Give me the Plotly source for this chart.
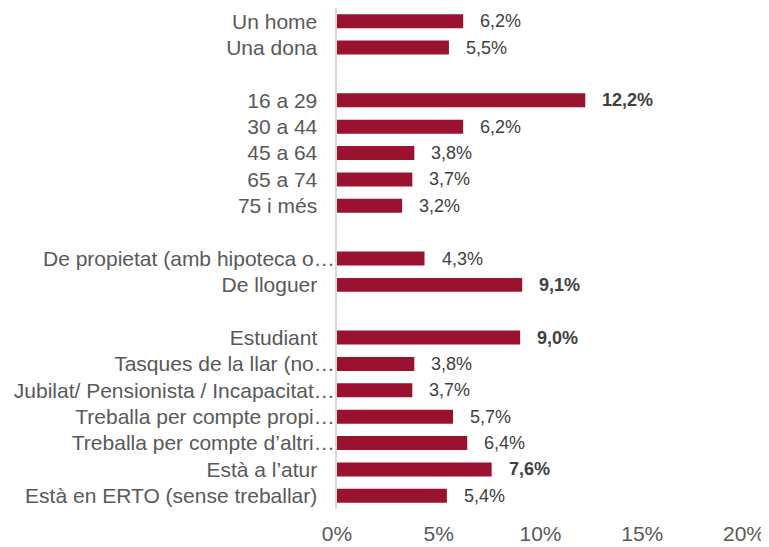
import plotly.graph_objects as go

categories = [
    "Un home", "Una dona", "",
    "16 a 29", "30 a 44", "45 a 64", "65 a 74", "75 i més", "",
    "De propietat (amb hipoteca o…", "De lloguer", "",
    "Estudiant", "Tasques de la llar (no…", "Jubilat/ Pensionista / Incapacitat…",
    "Treballa per compte propi…", "Treballa per compte d’altri…",
    "Està a l’atur", "Està en ERTO (sense treballar)",
]
values = [
    6.2, 5.5, None,
    12.2, 6.2, 3.8, 3.7, 3.2, None,
    4.3, 9.1, None,
    9.0, 3.8, 3.7, 5.7, 6.4, 7.6, 5.4,
]
bold_labels = [12.2, 9.1, 9.0, 7.6]
x_ticks = [0, 5, 10, 15, 20]
x_tick_labels = ["0%", "5%", "10%", "15%", "20%"]

ypos = list(range(len(categories)))
ticktext = [c if c.endswith("…") or c == "" else c + "\u00a0\u00a0\u00a0" for c in categories]

fig = go.Figure()
fig.add_trace(go.Bar(
    x=values, y=ypos, orientation="h",
    marker=dict(color="#9B1230", line=dict(width=0)),
    width=0.53, hoverinfo="skip",
))

for yi, v in zip(ypos, values):
    if v is None:
        continue
    txt = f"{v:.1f}".replace(".", ",") + "%"
    if v in bold_labels and yi not in (0, 1):
        txt = f"<b>{txt}</b>"
    fig.add_annotation(
        x=v, y=yi, text=txt, showarrow=False,
        xanchor="left", yanchor="middle", xshift=15,
        font=dict(family="Liberation Sans, Arial, sans-serif", size=18, color="#404040"),
    )

fig.update_layout(
    width=761, height=539,
    margin=dict(l=329, r=25, t=0, b=38),
    plot_bgcolor="white", paper_bgcolor="white",
    showlegend=False,
    xaxis=dict(
        range=[0, 20], tickvals=x_ticks, ticktext=x_tick_labels,
        showgrid=False, zeroline=False, showline=False,
        ticks="", ticklabelstandoff=10,
        tickfont=dict(family="Liberation Sans, Arial, sans-serif", size=21, color="#595959"),
        fixedrange=True, automargin=False,
    ),
    yaxis=dict(
        range=[len(categories) - 0.5, -0.5],
        tickvals=ypos, ticktext=ticktext,
        showgrid=False, zeroline=False,
        showline=True, linecolor="#D9D9D9", linewidth=2,
        ticks="", ticklabelstandoff=-4,
        tickfont=dict(family="Liberation Sans, Arial, sans-serif", size=21, color="#595959"),
        fixedrange=True, automargin=False,
    ),
)

fig.write_html("out.html")
